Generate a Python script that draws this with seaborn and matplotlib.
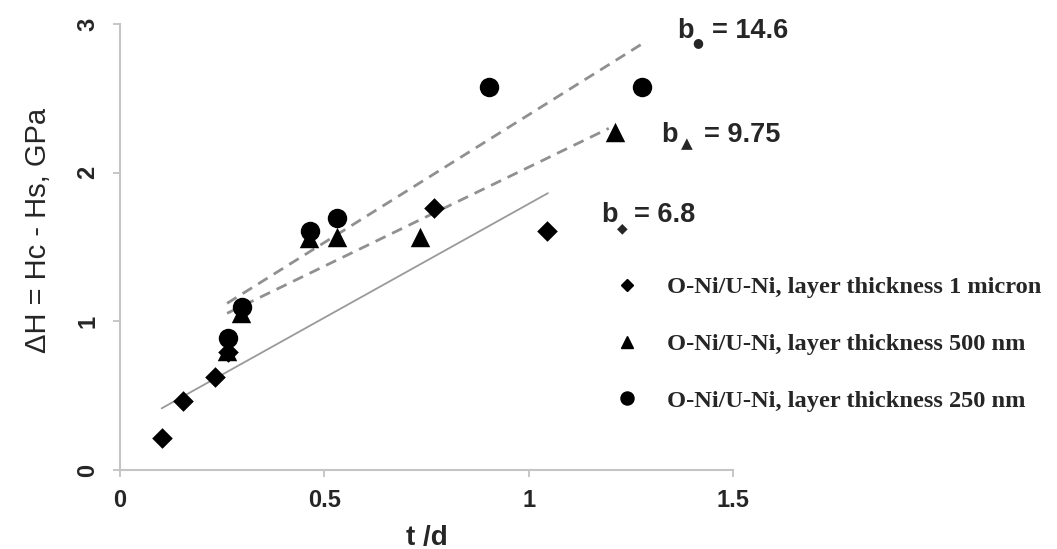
import matplotlib
matplotlib.use("Agg")
import matplotlib.pyplot as plt
import seaborn as sns
import pandas as pd
from matplotlib.lines import Line2D

# ---- data ----
series_names = [
    "O-Ni/U-Ni, layer thickness 1 micron",
    "O-Ni/U-Ni, layer thickness 500 nm",
    "O-Ni/U-Ni, layer thickness 250 nm",
]
diamond_x = [0.102, 0.153, 0.233, 0.265, 0.768, 1.046]
diamond_y = [0.213, 0.466, 0.623, 0.796, 1.760, 1.607]
triangle_x = [0.262, 0.297, 0.463, 0.530, 0.733, 1.212]
triangle_y = [0.800, 1.054, 1.558, 1.569, 1.570, 2.275]
circle_x = [0.265, 0.299, 0.465, 0.531, 0.903, 1.278]
circle_y = [0.890, 1.094, 1.607, 1.697, 2.574, 2.574]

# trend line end points
fit_diamond_x = [0.102, 1.047]
fit_diamond_y = [0.415, 1.862]
fit_triangle_x = [0.262, 1.196]
fit_triangle_y = [1.054, 2.298]
fit_circle_x = [0.262, 1.282]
fit_circle_y = [1.121, 2.874]

slope_labels = ["= 6.8", "= 9.75", "= 14.6"]

x_ticks = [0, 0.5, 1, 1.5]
x_tick_labels = ["0", "0.5", "1", "1.5"]
y_ticks = [0, 1, 2, 3]
y_tick_labels = ["0", "1", "2", "3"]

# ---- figure ----
sns.set_style("white")
plt.rcParams["font.family"] = ["Liberation Sans", "DejaVu Sans"]

W, H = 1057, 549
fig = plt.figure(figsize=(W / 100, H / 100), dpi=100)
ax = fig.add_axes([120 / W, 1 - 470 / H, (733 - 120) / W, (470 - 24) / H])

def fx(px):
    return px / W

def fy(py):
    return 1 - py / H

# trend lines
df_fd = pd.DataFrame({"x": fit_diamond_x, "y": fit_diamond_y})
df_ft = pd.DataFrame({"x": fit_triangle_x, "y": fit_triangle_y})
df_fc = pd.DataFrame({"x": fit_circle_x, "y": fit_circle_y})
sns.lineplot(data=df_fd, x="x", y="y", ax=ax, color="#9a9a9a", lw=1.3,
             legend=False, zorder=1)
sns.lineplot(data=df_ft, x="x", y="y", ax=ax, color="#909090", lw=2.0,
             dashes=False, legend=False, zorder=1, linestyle=(0, (4, 2.6)))
sns.lineplot(data=df_fc, x="x", y="y", ax=ax, color="#909090", lw=2.0,
             dashes=False, legend=False, zorder=1, linestyle=(0, (4, 2.6)))

# scatter points
df_d = pd.DataFrame({"x": diamond_x, "y": diamond_y})
df_t = pd.DataFrame({"x": triangle_x, "y": triangle_y})
df_c = pd.DataFrame({"x": circle_x, "y": circle_y})
sns.scatterplot(data=df_d, x="x", y="y", ax=ax, marker="D", s=10.5 ** 2,
                color="black", edgecolor="black", linewidth=0, zorder=3,
                clip_on=False)
sns.scatterplot(data=df_t, x="x", y="y", ax=ax, marker="^", s=14 ** 2,
                color="black", edgecolor="black", linewidth=0, zorder=3,
                clip_on=False)
sns.scatterplot(data=df_c, x="x", y="y", ax=ax, marker="o", s=14 ** 2,
                color="black", edgecolor="black", linewidth=0, zorder=4,
                clip_on=False)

ax.set_xlim(0, 1.5)
ax.set_ylim(0, 3)
ax.set_xticks(x_ticks)
ax.set_xticklabels(x_tick_labels, fontsize=17, fontweight="bold")
ax.set_yticks(y_ticks)
ax.set_yticklabels(y_tick_labels, fontsize=17, fontweight="bold",
                   rotation=90, va="center")
ax.tick_params(axis="x", direction="out", length=5, width=1.2,
               color="#bdbdbd", pad=9, bottom=True)
ax.tick_params(axis="y", direction="out", length=5, width=1.2,
               color="#bdbdbd", pad=10, left=True)
for side in ["top", "right"]:
    ax.spines[side].set_visible(False)
for side in ["left", "bottom"]:
    ax.spines[side].set_color("#c4c4c4")
    ax.spines[side].set_linewidth(1.5)
ax.grid(False)

ax.set_xlabel("t /d", fontsize=20, fontweight="bold")
ax.xaxis.set_label_coords(0.5, (470 - 525) / 446)
ax.xaxis.label.set_va("top")
ax.set_ylabel("ΔH = Hc - Hs, GPa", fontsize=21)
ax.yaxis.set_label_coords((52 - 120) / 613, (470 - 230) / 446)

# slope annotations
ann = [
    # (b left x, baseline y, sub marker, sub size, sub x, sub y, eq left x, text)
    (601, 222, "◆", 10, 622, 228, 634, slope_labels[0]),
    (661, 142, "▲", 11, 687, 144, 704, slope_labels[1]),
    (677, 38, "●", 9, 698, 43, 712, slope_labels[2]),
]
for bx, by, sm, ss, sx, sy, ex, txt in ann:
    fig.text(fx(bx), fy(by), "b", fontsize=19.5, fontweight="bold",
             ha="left", va="baseline")
    fig.text(fx(sx), fy(sy), sm, fontsize=ss, ha="center", va="center",
             family=["DejaVu Sans"])
    fig.text(fx(ex), fy(by), txt, fontsize=19.5, fontweight="bold",
             ha="left", va="baseline")

# legend
handles = [
    Line2D([], [], marker="D", color="black", linestyle="none", markersize=6.6),
    Line2D([], [], marker="^", color="black", linestyle="none", markersize=8.8),
    Line2D([], [], marker="o", color="black", linestyle="none", markersize=9.4),
]
leg = fig.legend(handles, series_names, loc="upper left",
                 bbox_to_anchor=(fx(603), fy(264)), frameon=False,
                 borderpad=0, handlelength=0.97, handletextpad=1.15,
                 labelspacing=1.42,
                 prop={"family": "Liberation Serif", "weight": "bold",
                       "size": 17.6})

fig.savefig("out.png", dpi=100)
